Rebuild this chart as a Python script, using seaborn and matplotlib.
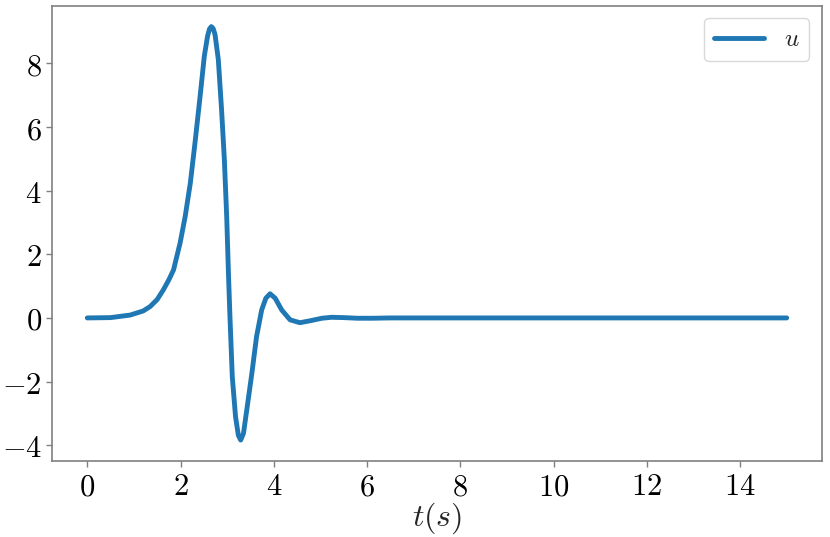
import numpy as np
import pandas as pd
import matplotlib
matplotlib.use("Agg")
import matplotlib.pyplot as plt
import seaborn as sns

# Data
t = [0.0, 0.5, 0.92, 1.2, 1.35, 1.5, 1.63, 1.75, 1.85, 1.99, 2.1, 2.21, 2.31, 2.42, 2.51,
     2.58, 2.62, 2.66, 2.7, 2.74, 2.81, 2.88, 2.94, 2.99, 3.03, 3.06, 3.11, 3.18, 3.24,
     3.29, 3.35, 3.42, 3.53, 3.63, 3.74, 3.83, 3.92, 4.03, 4.17, 4.35, 4.56, 4.81, 5.03,
     5.24, 5.5, 5.8, 6.1, 6.5, 7.0, 8.0, 9.0, 10.0, 11.0, 12.0, 13.0, 14.0, 15.0]
u = [0.0, 0.01, 0.09, 0.22, 0.36, 0.58, 0.88, 1.2, 1.51, 2.35, 3.19, 4.24, 5.5, 6.97, 8.23,
     8.86, 9.08, 9.16, 9.1, 8.91, 8.13, 6.55, 4.98, 3.19, 1.3, 0.04, -1.85, -3.11, -3.69,
     -3.84, -3.63, -2.9, -1.74, -0.59, 0.25, 0.62, 0.76, 0.62, 0.25, -0.06, -0.15, -0.08,
     -0.01, 0.02, 0.01, -0.01, -0.01, 0.0, 0.0, 0.0, 0.0, 0.0, 0.0, 0.0, 0.0, 0.0, 0.0]

xticks = [0, 2, 4, 6, 8, 10, 12, 14]
yticks = [-4, -2, 0, 2, 4, 6, 8]

df = pd.DataFrame({"t": t, "u": u})

sns.set_style("white")
plt.rcParams["mathtext.fontset"] = "cm"
plt.rcParams["font.family"] = ["serif"]
plt.rcParams["font.serif"] = ["DejaVu Serif"]
plt.rcParams["axes.formatter.use_mathtext"] = True

fig = plt.figure(figsize=(8.3, 5.37), dpi=100)
ax = fig.add_axes([0.063, 0.142, 0.927, 0.847])
sns.lineplot(data=df, x="t", y="u", ax=ax, color="#1f77b4", linewidth=3.5,
             label=r"$u$", solid_joinstyle="round")

ax.set_xticks(xticks)
ax.set_yticks(yticks)
ax.set_xticklabels([f"${v}$" for v in xticks])
ax.set_yticklabels([f"${v}$" if v >= 0 else f"$-{abs(v)}$" for v in yticks])
ax.tick_params(axis="both", labelsize=22, length=4, width=1, color="#808080",
               bottom=True, left=True, labelcolor="black")
ax.set_xlabel(r"$t(s)$", fontsize=23, labelpad=-1)
ax.set_ylabel("")
for sp in ax.spines.values():
    sp.set_color("#808080")
    sp.set_linewidth(1.2)

leg = ax.legend(loc="upper right", fontsize=18, frameon=True, handlelength=2.0)
leg.get_frame().set_edgecolor("#d0d0d0")

fig.savefig("out.png", dpi=100)
